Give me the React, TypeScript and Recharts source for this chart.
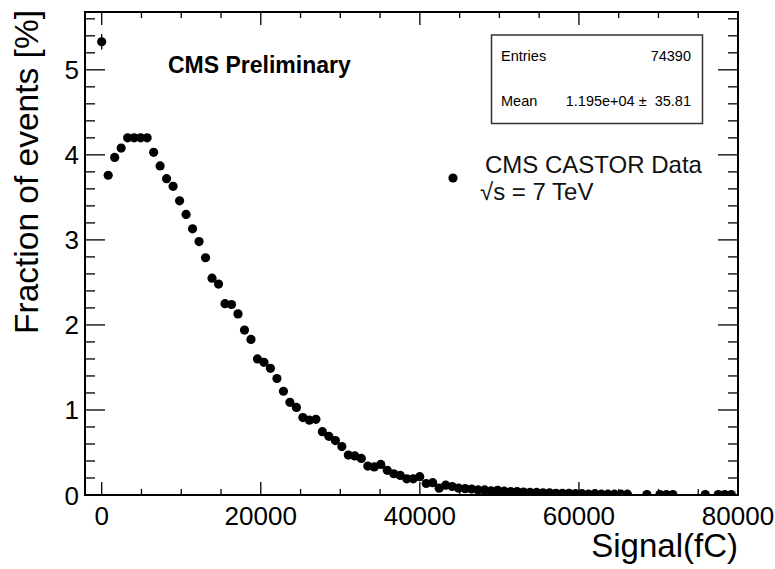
import React from 'react';
import { ScatterChart, Scatter, XAxis, YAxis, ReferenceArea, ErrorBar } from 'recharts';

// bin centres (fC) and fraction of events (%); empty bins are left out
const signalFc = [
  0, 816, 1632, 2448, 3264, 4080, 4896, 5712, 6528, 7344,
  8160, 8976, 9792, 10608, 11424, 12240, 13056, 13872, 14688, 15504,
  16320, 17136, 17952, 18768, 19584, 20400, 21216, 22032, 22848, 23664,
  24480, 25296, 26112, 26928, 27744, 28560, 29376, 30192, 31008, 31824,
  32640, 33456, 34272, 35088, 35904, 36720, 37536, 38352, 39168, 39984,
  40800, 41616, 42432, 43248, 44064, 44880, 45696, 46512, 47328, 48144,
  48960, 49776, 50592, 51408, 52224, 53040, 53856, 54672, 55488, 56304,
  57120, 57936, 58752, 59568, 60384, 61200, 62016, 62832, 63648, 64464,
  65280, 66096, 68544, 70176, 70992, 71808, 75888, 77520, 78336, 79152,
];

const fractionPct = [
  5.33, 3.76, 3.97, 4.08, 4.2, 4.2, 4.2, 4.2, 4.03, 3.87,
  3.72, 3.63, 3.46, 3.3, 3.13, 2.98, 2.79, 2.55, 2.48, 2.25,
  2.24, 2.13, 1.94, 1.83, 1.6, 1.56, 1.49, 1.37, 1.22, 1.09,
  1.03, 0.91, 0.88, 0.89, 0.745, 0.69, 0.64, 0.57, 0.47, 0.46,
  0.43, 0.34, 0.33, 0.36, 0.29, 0.25, 0.23, 0.19, 0.19, 0.215,
  0.135, 0.145, 0.08, 0.115, 0.1, 0.08, 0.075, 0.07, 0.06, 0.06,
  0.05, 0.055, 0.045, 0.04, 0.04, 0.035, 0.03, 0.03, 0.025, 0.025,
  0.02, 0.02, 0.02, 0.015, 0.015, 0.01, 0.015, 0.01, 0.01, 0.01,
  0.01, 0.01, 0.005, 0.005, 0.005, 0.005, 0.005, 0.005, 0.005, 0.005,
];

// only the first bin has an error bar that sticks out of the marker
const fractionErr = [0.09];

const xMajorTicks = [0, 20000, 40000, 60000, 80000];
const xMinorTicks = [
  5000, 10000, 15000, 25000, 30000, 35000, 45000, 50000, 55000, 65000, 70000, 75000,
];
const yMajorTicks = [0, 1, 2, 3, 4, 5];
const yMinorTicks = [
  0.2, 0.4, 0.6, 0.8, 1.2, 1.4, 1.6, 1.8, 2.2, 2.4, 2.6, 2.8,
  3.2, 3.4, 3.6, 3.8, 4.2, 4.4, 4.6, 4.8, 5.2, 5.4, 5.6,
];

const W = 775;
const H = 569;
const PLOT_LEFT = 85;
const PLOT_RIGHT = 738;
const PLOT_TOP = 12;
const PLOT_BOTTOM = 495;
const FONT = '"Liberation Sans", Arial, Helvetica, sans-serif';

const data = signalFc.map((x, i) => ({
  signal: x,
  fraction: fractionPct[i],
  err: fractionErr[i] ?? 0,
}));

function XTick(props: any) {
  const { x, payload } = props;
  const major = xMajorTicks.includes(payload.value);
  const len = major ? 13 : 6;
  return (
    <g>
      <line x1={x} x2={x} y1={PLOT_BOTTOM} y2={PLOT_BOTTOM - len} stroke="#000" strokeWidth={1.3} />
      <line x1={x} x2={x} y1={PLOT_TOP} y2={PLOT_TOP + len} stroke="#000" strokeWidth={1.3} />
      {major && (
        <text x={x} y={525} textAnchor="middle" fontSize={26} fontFamily={FONT} fill="#000">
          {payload.value}
        </text>
      )}
    </g>
  );
}

function YTick(props: any) {
  const { y, payload } = props;
  const major = yMajorTicks.includes(payload.value);
  const len = major ? 20 : 10;
  return (
    <g>
      <line x1={PLOT_LEFT} x2={PLOT_LEFT + len} y1={y} y2={y} stroke="#000" strokeWidth={1.3} />
      <line x1={PLOT_RIGHT} x2={PLOT_RIGHT - len} y1={y} y2={y} stroke="#000" strokeWidth={1.3} />
      {major && (
        <text x={79} y={y + 9.5} textAnchor="end" fontSize={26} fontFamily={FONT} fill="#000">
          {payload.value}
        </text>
      )}
    </g>
  );
}

const Dot = (p: any) => <circle cx={p.cx} cy={p.cy} r={4.6} fill="#000" />;

export default function App() {
  return (
    <div style={{ position: 'absolute', left: 0, top: 0, width: W, height: H, background: '#fff' }}>
      <ScatterChart
        width={W}
        height={H}
        margin={{ top: PLOT_TOP, right: W - PLOT_RIGHT, bottom: H - PLOT_BOTTOM - 1, left: PLOT_LEFT - 1 }}
      >
        <XAxis
          type="number"
          dataKey="signal"
          domain={[-2100, 80000]}
          ticks={[...xMajorTicks, ...xMinorTicks]}
          allowDataOverflow
          height={1}
          axisLine={false}
          tickLine={false}
          tickSize={0}
          tickMargin={0}
          interval={0}
          tick={<XTick />}
        />
        <YAxis
          type="number"
          dataKey="fraction"
          domain={[0, 5.68]}
          ticks={[...yMajorTicks, ...yMinorTicks]}
          allowDataOverflow
          width={1}
          axisLine={false}
          tickLine={false}
          tickSize={0}
          tickMargin={0}
          interval={0}
          tick={<YTick />}
        />
        <ReferenceArea
          x1={-2100}
          x2={80000}
          y1={0}
          y2={5.68}
          fill="none"
          fillOpacity={0}
          stroke="#000"
          strokeWidth={2}
        />
        <Scatter data={data} shape={Dot} isAnimationActive={false}>
          <ErrorBar dataKey="err" direction="y" width={0} stroke="#000" strokeWidth={1.3} />
        </Scatter>
      </ScatterChart>

      {/* titles, label and legend */}
      <svg
        width={W}
        height={H}
        style={{ position: 'absolute', left: 0, top: 0, pointerEvents: 'none' }}
        fontFamily={FONT}
      >
        <text transform="rotate(-90)" x={-PLOT_TOP + 2} y={38} textAnchor="end" fontSize={33.5} fill="#000">
          Fraction of events [%]
        </text>
        <text x={PLOT_RIGHT} y={557} textAnchor="end" fontSize={33} fill="#000">
          Signal(fC)
        </text>
        <text x={168} y={73} fontSize={23} fontWeight="bold" fill="#000">
          CMS Preliminary
        </text>

        <circle cx={453} cy={178} r={4.6} fill="#000" />
        <text x={485} y={173} fontSize={24} fill="#111">
          CMS CASTOR Data
        </text>
        <text x={480} y={200} fontSize={24} fill="#111">
          √s = 7 TeV
        </text>

        <rect x={491.5} y={35} width={211} height={88.5} fill="#fff" stroke="#333" strokeWidth={1.5} />
        <text x={501} y={61} fontSize={14.5} fill="#000">
          Entries
        </text>
        <text x={691} y={61} fontSize={14.5} textAnchor="end" fill="#000">
          74390
        </text>
        <text x={501} y={106} fontSize={14.5} fill="#000">
          Mean
        </text>
        <text x={691} y={106} fontSize={14.5} textAnchor="end" fill="#000">
          {'1.195e+04 \u00b1\u00a0 35.81'}
        </text>
      </svg>
    </div>
  );
}
